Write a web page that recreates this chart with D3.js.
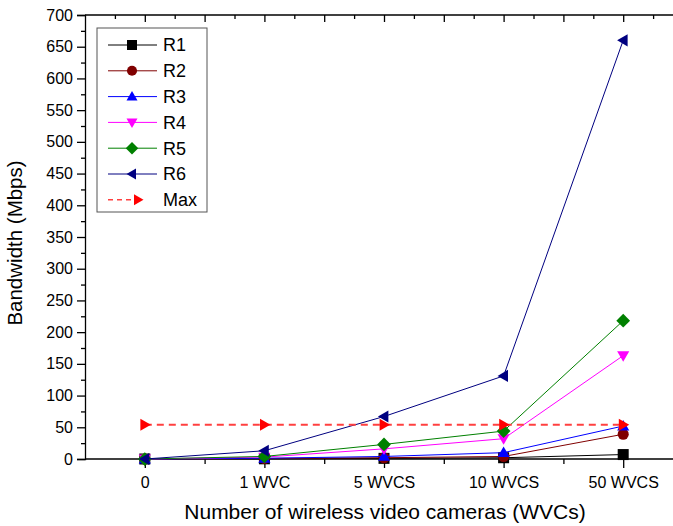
<!DOCTYPE html>
<html>
<head>
<meta charset="utf-8">
<script src="https://cdn.jsdelivr.net/npm/d3@7"></script>
<style>
  body { margin: 0; background: #fff; }
  text { font-family: "Liberation Sans", Arial, sans-serif; }
</style>
</head>
<body>
<div id="chart"></div>
<script>
// categories on the x axis
const categories = ['0', '1 WVC', '5 WVCS', '10 WVCS', '50 WVCS'];

// bandwidth values (Mbps) per series
const r1 = [0, 0.3, 1, 2, 7];
const r2 = [0, 0.8, 2, 4, 39];
const r3 = [0, 1.2, 4, 10, 52];
const r4 = [0, 3, 16, 32, 163];
const r5 = [0, 4, 23, 44, 218];
const r6 = [0, 13, 67, 131, 660];
const maxBw = [54, 54, 54, 54, 54];

const yTicks = d3.range(0, 701, 50);

const series = [
    { name: 'R1', values: r1, color: '#000000', symbol: 'square' },
    { name: 'R2', values: r2, color: '#800000', symbol: 'circle' },
    { name: 'R3', values: r3, color: '#0000ff', symbol: 'up' },
    { name: 'R4', values: r4, color: '#ff00ff', symbol: 'down' },
    { name: 'R5', values: r5, color: '#008000', symbol: 'diamond' },
    { name: 'R6', values: r6, color: '#000080', symbol: 'left' },
    { name: 'Max', values: maxBw, color: '#ff0000', symbol: 'right', dashed: true }
];

const width = 673;
const height = 526;
const margin = { top: 15, left: 85, bottom: 67 };

const svg = d3.select('#chart')
    .append('svg')
    .attr('width', width)
    .attr('height', height);

// x is the category index, y is bandwidth
const x = d3.scaleLinear().domain([-0.5, 4.5]).range([margin.left, 683]);
const y = d3.scaleLinear().domain([0, 700]).range([height - margin.bottom, margin.top]);

// marker shapes
function markerPath(sym, s) {
    const h = s / 2;
    switch (sym) {
        case 'square': return `M${-h},${-h}H${h}V${h}H${-h}Z`;
        case 'diamond': return `M0,${-h * 1.25}L${h * 1.25},0L0,${h * 1.25}L${-h * 1.25},0Z`;
        case 'up': return `M0,${-h * 1.1}L${h * 1.1},${h * 0.8}L${-h * 1.1},${h * 0.8}Z`;
        case 'down': return `M0,${h * 1.1}L${h * 1.1},${-h * 0.8}L${-h * 1.1},${-h * 0.8}Z`;
        case 'left': return `M${-h * 1.1},0L${h * 0.8},${-h * 1.1}L${h * 0.8},${h * 1.1}Z`;
        case 'right': return `M${h * 1.1},0L${-h * 0.8},${-h * 1.1}L${-h * 0.8},${h * 1.1}Z`;
        default: return d3.symbol(d3.symbolCircle, s * s * 0.8)();
    }
}

// y axis with major and minor ticks
svg.append('g')
    .attr('transform', `translate(${margin.left},0)`)
    .call(d3.axisLeft(y).tickValues(yTicks).tickSize(8).tickPadding(4))
    .call(g => g.selectAll('text').style('font-size', '16px').attr('fill', '#000'));
svg.append('g')
    .attr('transform', `translate(${margin.left},0)`)
    .call(d3.axisLeft(y).tickValues(d3.range(25, 700, 50)).tickSize(4).tickFormat(''))
    .call(g => g.select('.domain').remove());

// bottom x axis
svg.append('g')
    .attr('transform', `translate(0,${y(0)})`)
    .call(d3.axisBottom(x).tickValues(d3.range(0, 5)).tickSize(9).tickPadding(9)
        .tickFormat(i => categories[i]))
    .call(g => g.select('.domain').attr('d', `M${x(-0.5)},0H${x(4.5)}`))
    .call(g => g.selectAll('text').style('font-size', '16px').attr('fill', '#000'));
svg.append('g')
    .attr('transform', `translate(0,${y(0)})`)
    .call(d3.axisBottom(x).tickValues(d3.range(0.5, 4.5, 1)).tickSize(5).tickFormat(''))
    .call(g => g.select('.domain').remove());

// top frame axis with inward ticks
svg.append('g')
    .attr('transform', `translate(0,${y(700)})`)
    .call(d3.axisBottom(x).tickValues(d3.range(0, 4.6, 0.5)).tickSize(7).tickFormat(''))
    .call(g => g.select('.domain').attr('d', `M${x(-0.5)},0H${x(4.5)}`));
svg.append('g')
    .attr('transform', `translate(0,${y(700)})`)
    .call(d3.axisBottom(x).tickValues(d3.range(-0.25, 4.6, 0.5)).tickSize(4).tickFormat(''))
    .call(g => g.select('.domain').remove());

svg.selectAll('.domain, .tick line').attr('stroke', '#000').attr('stroke-width', 1.3);

// lines and markers
const line = d3.line().x((d, i) => x(i)).y(d => y(d));

series.forEach(s => {
    svg.append('path')
        .datum(s.values)
        .attr('d', line)
        .attr('fill', 'none')
        .attr('stroke', s.dashed ? '#ff4040' : s.color)
        .attr('stroke-width', s.dashed ? 2 : 1)
        .attr('stroke-dasharray', s.dashed ? '7,5' : null);
    svg.append('g')
        .selectAll('path')
        .data(s.values)
        .enter()
        .append('path')
        .attr('transform', (d, i) => `translate(${x(i)},${y(d)})`)
        .attr('d', markerPath(s.symbol, 11))
        .attr('fill', s.color);
});

// legend
const legend = svg.append('g').attr('transform', 'translate(97,28)');
legend.append('rect')
    .attr('width', 110)
    .attr('height', 184)
    .attr('fill', '#fff')
    .attr('stroke', '#555')
    .attr('stroke-width', 1);

series.forEach((s, i) => {
    const row = legend.append('g').attr('transform', `translate(0,${17 + i * 25.8})`);
    row.append('line')
        .attr('x1', 11).attr('x2', s.dashed ? 46 : 60)
        .attr('stroke', s.dashed ? '#ff4040' : s.color)
        .attr('stroke-width', s.dashed ? 1.5 : 1)
        .attr('stroke-dasharray', s.dashed ? '5,4' : null);
    row.append('path')
        .attr('transform', `translate(${s.dashed ? 41 : 35},0)`)
        .attr('d', markerPath(s.symbol, 10))
        .attr('fill', s.color);
    row.append('text')
        .attr('x', 66)
        .attr('dy', '0.36em')
        .style('font-size', '18px')
        .text(s.name);
});

// axis titles
svg.append('text')
    .attr('transform', 'rotate(-90)')
    .attr('x', -243)
    .attr('y', 22)
    .style('text-anchor', 'middle')
    .style('font-size', '20.5px')
    .text('Bandwidth (Mbps)');

svg.append('text')
    .attr('x', 385)
    .attr('y', 519)
    .style('text-anchor', 'middle')
    .style('font-size', '21px')
    .text('Number of wireless video cameras (WVCs)');
</script>
</body>
</html>
